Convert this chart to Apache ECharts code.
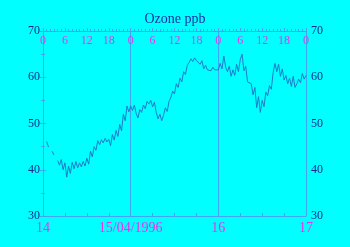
<!DOCTYPE html>
<html><head><meta charset="utf-8">
<script src="https://cdn.jsdelivr.net/npm/echarts@6/dist/echarts.min.js"></script>
<style>html,body{margin:0;padding:0;background:#00ffff;}#c{width:350px;height:247px;}</style>
</head><body><div id="c"></div>
<script>
// Half-hourly ozone readings (ppb) from 14/04/1996 00:00, hours since start
var stepHours = 0.5;
var ozone = [
 null,null,46.1,44.9,null,44.0,43.2,null,
 42.0,41.0,42.2,40.0,41.5,38.4,40.8,39.2,41.6,40.2,41.8,40.4,41.5,40.6,41.8,40.8,
 42.5,41.2,44.0,42.8,45.0,44.2,46.3,45.4,46.5,45.8,46.8,46.0,46.6,45.2,47.6,46.4,
 48.5,47.2,49.8,48.4,52.0,50.6,53.8,52.5,
 53.8,52.8,54.0,52.2,51.2,53.0,52.4,54.0,53.2,54.8,54.2,55.0,53.6,54.6,52.4,51.0,
 52.0,50.6,51.8,53.4,52.6,54.8,55.6,57.0,56.4,58.6,57.8,59.8,59.0,61.2,60.6,62.6,
 63.2,64.0,63.4,64.2,63.6,64.0,62.8,63.6,61.8,62.6,61.6,62.0,61.4,62.2,61.6,62.0,
 61.6,63.0,61.8,64.6,62.2,61.2,62.4,60.2,61.6,60.4,62.8,61.2,63.8,65.0,61.4,62.4,
 59.0,59.4,58.6,56.2,57.8,53.4,55.8,52.4,55.0,53.6,56.8,56.0,58.2,57.4,61.0,63.0,
 61.2,62.8,60.2,61.8,59.4,60.4,58.6,59.8,58.0,60.2,57.8,58.6,59.6,58.8,60.8,59.6,
 60.4
];
var dayLabels = ['14', '15/04/1996', '16', '17'];
var hourTicks = [0, 6, 12, 18];
var yTicks = [30, 40, 50, 60, 70];

var pts = ozone.map(function (v, i) { return [i * stepHours, v]; });

var axisCol = '#3ea6f2';
var magenta = '#ee30ee';
var navy = '#1a2a8a';
var serif = 'Liberation Serif';

var chart = echarts.init(document.getElementById('c'), null, {renderer: 'canvas'});
chart.setOption({
  backgroundColor: '#00ffff',
  animation: false,
  title: {
    text: 'Ozone ppb', left: 'center', top: 7,
    textStyle: {color: '#1a30a0', fontFamily: serif, fontSize: 14, fontWeight: 'normal'}
  },
  grid: {left: 43, right: 44, top: 31, bottom: 31},
  xAxis: [
    {
      type: 'value', position: 'bottom', min: 0, max: 72, interval: 24,
      axisLine: {show: true, lineStyle: {color: axisCol}},
      axisTick: {show: true, inside: true, length: 3, lineStyle: {color: axisCol}},
      minorTick: {show: true, splitNumber: 4, length: 3, lineStyle: {color: axisCol}},
      splitLine: {show: true, lineStyle: {color: axisCol, width: 1}},
      axisLabel: {
        color: magenta, fontFamily: serif, fontSize: 14, margin: 5,
        formatter: function (v) { return dayLabels[Math.round(v / 24)]; }
      }
    },
    {
      type: 'value', position: 'top', min: 0, max: 72, interval: 6,
      axisLine: {show: true, lineStyle: {color: axisCol}},
      axisTick: {show: true, inside: false, length: 3, lineStyle: {color: axisCol}},
      minorTick: {show: true, splitNumber: 6, length: 2, lineStyle: {color: axisCol}},
      splitLine: {show: false},
      axisLabel: {
        inside: true, color: magenta, fontFamily: serif, fontSize: 12, margin: 4,
        formatter: function (v) { return String(hourTicks[Math.round(v / 6) % 4]); }
      }
    }
  ],
  yAxis: [
    {
      type: 'value', position: 'left', min: 30, max: 70, interval: 10,
      axisLine: {show: true, lineStyle: {color: axisCol}},
      axisTick: {show: true, inside: true, length: 3, lineStyle: {color: axisCol}},
      minorTick: {show: true, splitNumber: 2, length: 2, lineStyle: {color: axisCol}},
      splitLine: {show: false},
      axisLabel: {color: navy, fontFamily: serif, fontSize: 12, margin: 3}
    },
    {
      type: 'value', position: 'right', min: 30, max: 70, interval: 10,
      axisLine: {show: true, lineStyle: {color: axisCol}},
      axisTick: {show: true, inside: true, length: 3, lineStyle: {color: axisCol}},
      minorTick: {show: true, splitNumber: 2, length: 2, lineStyle: {color: axisCol}},
      splitLine: {show: false},
      axisLabel: {color: navy, fontFamily: serif, fontSize: 12, margin: 5}
    }
  ],
  series: [{
    type: 'line', xAxisIndex: 0, yAxisIndex: 0, data: pts,
    showSymbol: false, connectNulls: false,
    lineStyle: {color: '#1f7ccc', width: 1}
  }]
});
</script></body></html>
